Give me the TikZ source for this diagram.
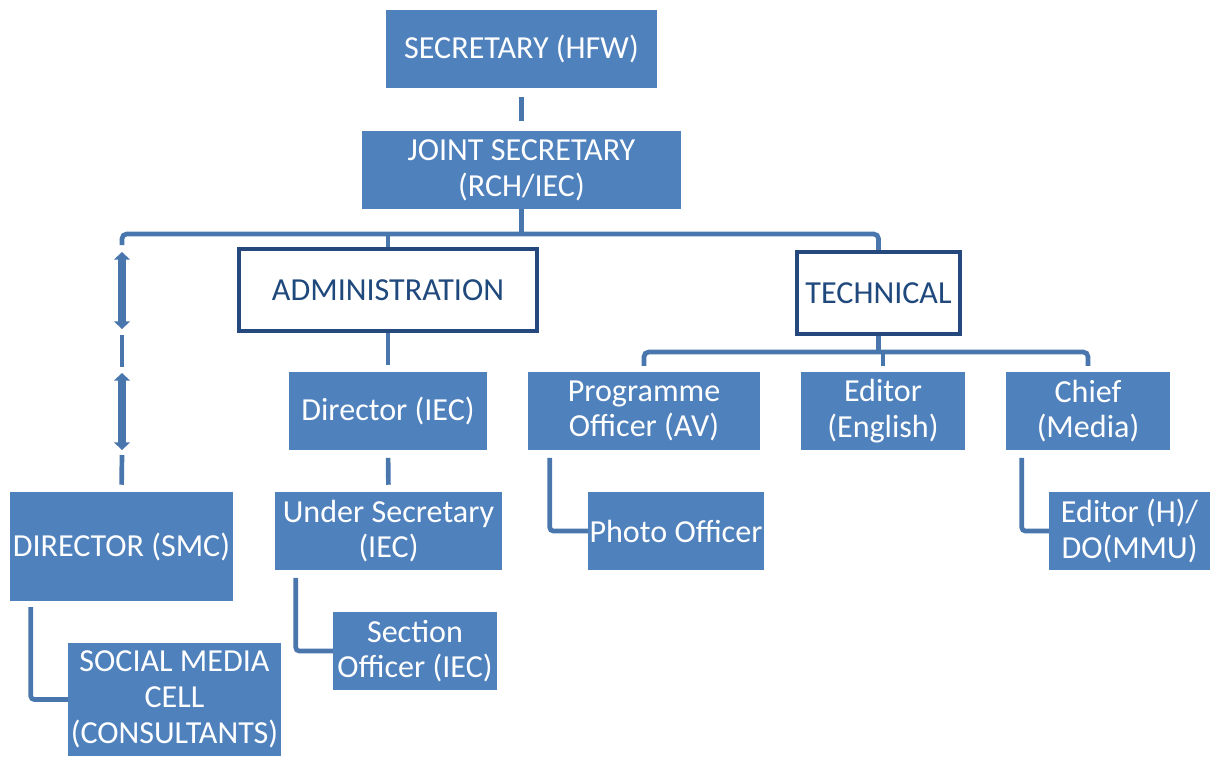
\documentclass[tikz,border=0pt]{standalone}
\usepackage{fontspec}
\setmainfont{Carlito}
\usetikzlibrary{arrows.meta,calc}
\definecolor{boxblue}{HTML}{4F81BD}
\definecolor{linkblue}{HTML}{4A76AE}
\definecolor{darkblue}{HTML}{25497D}
\definecolor{textdark}{HTML}{1F497D}
\begin{document}
\begin{tikzpicture}[x=0.03cm,y=-0.03cm,
  box/.style={fill=boxblue, text=white, inner sep=0pt, align=center,
    font=\fontsize{27.4}{30.5}\selectfont, anchor=center},
  unitbox/.style={fill=white, draw=darkblue, line width=3.6pt, text=textdark,
    inner sep=0pt, align=center, font=\fontsize{27.4}{30.5}\selectfont, anchor=center},
  conn/.style={draw=linkblue, line width=4pt},
  dblarrow/.style={draw=linkblue, line width=6.5pt,
    {Triangle[width=13.5pt,length=6.5pt]}-{Triangle[width=13.5pt,length=6.5pt]}},
]
\useasboundingbox (0,0) rectangle (1210,756);

% boxes
\node[box, minimum width=271*0.03cm, minimum height=78*0.03cm] (sec) at (521.5,49) {SECRETARY (HFW)};
\node[box, minimum width=319*0.03cm, minimum height=78*0.03cm] (js) at (521.5,170) {JOINT SECRETARY\\(RCH/IEC)};
\node[unitbox, minimum width=298*0.03cm, minimum height=82*0.03cm] (admin) at (388,290) {ADMINISTRATION};
\node[unitbox, minimum width=163*0.03cm, minimum height=82*0.03cm] (tech) at (878.5,293) {TECHNICAL};
\node[box, minimum width=198*0.03cm, minimum height=78*0.03cm] (dir) at (388,411) {Director (IEC)};
\node[box, minimum width=227*0.03cm, minimum height=78*0.03cm] (usec) at (388.5,531) {Under Secretary\\(IEC)};
\node[box, minimum width=164*0.03cm, minimum height=78*0.03cm] (secoff) at (415,651) {Section\\Officer (IEC)};
\node[box, minimum width=223*0.03cm, minimum height=109*0.03cm] (dsmc) at (121.5,546.5) {DIRECTOR (SMC)};
\node[box, minimum width=213*0.03cm, minimum height=113*0.03cm] (smc) at (174.5,699.5) {SOCIAL MEDIA\\CELL\\(CONSULTANTS)};
\node[box, minimum width=232*0.03cm, minimum height=78*0.03cm] (prog) at (644,411) {Programme\\Officer (AV)};
\node[box, minimum width=164*0.03cm, minimum height=78*0.03cm] (edeng) at (883,411) {Editor\\(English)};
\node[box, minimum width=164*0.03cm, minimum height=78*0.03cm] (chief) at (1088,411) {Chief\\(Media)};
\node[box, minimum width=176*0.03cm, minimum height=78*0.03cm] (photo) at (676,531) {Photo Officer};
\node[box, minimum width=161*0.03cm, minimum height=78*0.03cm] (edh) at (1129.5,531) {Editor (H)/\\DO(MMU)};

% top of the chart
\draw[conn, shorten <=7.5pt, shorten >=8pt] (sec.south) -- (js.north);
\coordinate (busL) at (122,234);
\coordinate (busR) at (878.5,234);
\draw[conn] (js.south) -- (js.south |- busL);
\draw[conn, rounded corners=4pt] ($(busL)+(0,11)$) -- (busL) -- (busR) -- (tech.north);
\draw[conn] (admin.north |- busL) -- (admin.north);

% staff link down to the social media director
\draw[dblarrow] ($(busL)+(0,18)$) -- ($(busL)+(0,95)$);
\draw[conn] ($(busL)+(0,101)$) -- ($(busL)+(0,133)$);
\draw[dblarrow] ($(busL)+(0,139)$) -- ($(busL)+(0,216)$);
\draw[conn, shorten >=6pt] ($(busL)+(0,221)$) -- (dsmc.north);
\draw[conn, rounded corners=3pt, shorten <=5pt] ($(dsmc.south west)+(21,0)$) |- (smc.west);

% administration branch
\draw[conn, shorten >=6pt] (admin.south) -- (dir.north);
\draw[conn, shorten <=6.5pt, shorten >=6pt] (dir.south) -- (usec.north);
\draw[conn, rounded corners=3pt, shorten <=6.5pt] ($(usec.south west)+(21,0)$) |- (secoff.west);

% technical branch
\coordinate (busT) at (878.5,352);
\draw[conn] (tech.south) -- (busT);
\draw[conn, rounded corners=4pt] ($(prog.north)+(0,-6)$) |- (busT) -| ($(chief.north)+(0,-6)$);
\draw[conn] (edeng.north |- busT) -- ($(edeng.north)+(0,-6)$);
\draw[conn, rounded corners=3pt, shorten <=6.5pt] ($(prog.south west)+(22,0)$) |- (photo.west);
\draw[conn, rounded corners=3pt, shorten <=6.5pt] ($(chief.south west)+(16,0)$) |- (edh.west);
\end{tikzpicture}
\end{document}
